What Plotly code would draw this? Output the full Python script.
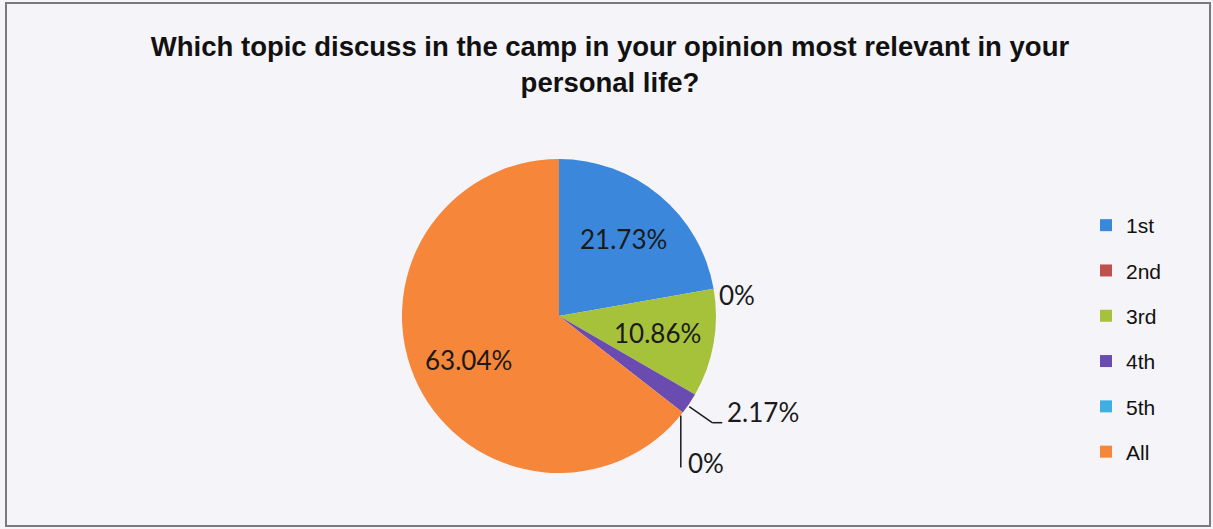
import math
import plotly.graph_objects as go

# ---- data ----
categories = ["1st", "2nd", "3rd", "4th", "5th", "All"]
values = [21.73, 0, 10.86, 2.17, 0, 63.04]
pct_labels = ["21.73%", "0%", "10.86%", "2.17%", "0%", "63.04%"]
colors = ["#3A87DB", "#C0504D", "#A6C23B", "#6A4CB0", "#3FAEE0", "#F5863A"]
title_text = "Which topic discuss in the camp in your opinion most relevant in your<br>personal life?"

# ---- layout geometry (pixels) ----
W, H = 1213, 529
cx, cy, R = 559, 316, 157
outside = {1, 3, 4}  # slices labelled outside with leader lines
inside_r = 0.64      # radial position of inside labels (fraction of radius)

dom_x = [(cx - R) / W, (cx + R) / W]
dom_y = [1 - (cy + R) / H, 1 - (cy - R) / H]

fig = go.Figure()
fig.add_trace(go.Pie(
    labels=categories, values=values, textinfo="none",
    sort=False, direction="clockwise", rotation=0,
    marker=dict(colors=colors, line=dict(width=0)),
    domain=dict(x=dom_x, y=dom_y), showlegend=False, hoverinfo="label+percent",
))

# legend entries (one group per category for Excel-like spacing)
for c, col in zip(categories, colors):
    fig.add_trace(go.Scatter(
        x=[None], y=[None], mode="markers", name=c, legendgroup=c,
        marker=dict(symbol="square", size=12, color=col), hoverinfo="skip",
    ))

# angles of slice positions (clockwise from 12 o'clock)
total = sum(values)
cum = 0
mid_angles = []
for v in values:
    mid_angles.append((cum + v / 2) / total * 2 * math.pi)
    cum += v

def px_to_paper(px, py):
    return px / W, 1 - py / H

def edge_point(i, rr=R):
    a = mid_angles[i]
    return cx + rr * math.sin(a), cy - rr * math.cos(a)

shapes = []
annotations = []
line_style = dict(color="#1a1a1a", width=1.5)

# inside labels
for i, t in enumerate(pct_labels):
    if i in outside:
        continue
    px, py = edge_point(i, R * inside_r)
    x, y = px_to_paper(px, py)
    annotations.append(dict(x=x, y=y, xref="paper", yref="paper", text=t,
                            showarrow=False, xanchor="center", yanchor="middle"))

# 2nd (0%) - label just outside the edge
ex, ey = edge_point(1)
x, y = px_to_paper(ex + 3, ey + 6)
annotations.append(dict(x=x, y=y, xref="paper", yref="paper", text=pct_labels[1],
                        showarrow=False, xanchor="left", yanchor="middle"))

# 4th (2.17%) - elbow leader line
ex, ey = edge_point(3)
p0 = px_to_paper(ex, ey + 3)
p1 = px_to_paper(ex + 23, ey + 19)
p2 = px_to_paper(ex + 33, ey + 19)
shapes.append(dict(type="line", xref="paper", yref="paper", x0=p0[0], y0=p0[1], x1=p1[0], y1=p1[1], line=line_style))
shapes.append(dict(type="line", xref="paper", yref="paper", x0=p1[0], y0=p1[1], x1=p2[0], y1=p2[1], line=line_style))
x, y = px_to_paper(ex + 36, ey + 8)
annotations.append(dict(x=x, y=y, xref="paper", yref="paper", text=pct_labels[3],
                        showarrow=False, xanchor="left", yanchor="middle"))

# 5th (0%) - vertical leader line
ex, ey = edge_point(4)
q0 = px_to_paper(ex - 2, ey + 3)
q1 = px_to_paper(ex - 2, ey + 55)
shapes.append(dict(type="line", xref="paper", yref="paper", x0=q0[0], y0=q0[1], x1=q1[0], y1=q1[1], line=line_style))
x, y = px_to_paper(ex + 3, ey + 50)
annotations.append(dict(x=x, y=y, xref="paper", yref="paper", text=pct_labels[4],
                        showarrow=False, xanchor="left", yanchor="middle"))

for a in annotations:
    a["font"] = dict(family="Lato, Carlito, sans-serif", size=26, color="#1a1a1a")

# chart border
shapes.append(dict(type="rect", xref="paper", yref="paper", x0=6 / W, y0=1 - 526 / H,
                   x1=1210 / W, y1=1 - 3 / H, line=dict(color="#7a7a7a", width=2)))

fig.update_layout(
    width=W, height=H,
    margin=dict(l=0, r=0, t=0, b=0),
    paper_bgcolor="#F5F4F8", plot_bgcolor="#F5F4F8",
    title=dict(text=title_text, x=610 / W, xanchor="center", y=1 - 56 / H, yanchor="top",
               font=dict(family="Liberation Sans, Arial, sans-serif",
                         size=27.5, color="#111111", weight="bold")),
    xaxis=dict(visible=False), yaxis=dict(visible=False),
    legend=dict(x=1086 / W, xanchor="left", y=1 - 205 / H, yanchor="top",
                font=dict(family="Liberation Sans, Arial, sans-serif",
                          size=21, color="#111111"),
                tracegroupgap=15, bgcolor="rgba(0,0,0,0)"),
    shapes=shapes, annotations=annotations,
)

fig.write_html("out.html", config={"displayModeBar": False},
               post_script="document.body.style.margin='0';")
